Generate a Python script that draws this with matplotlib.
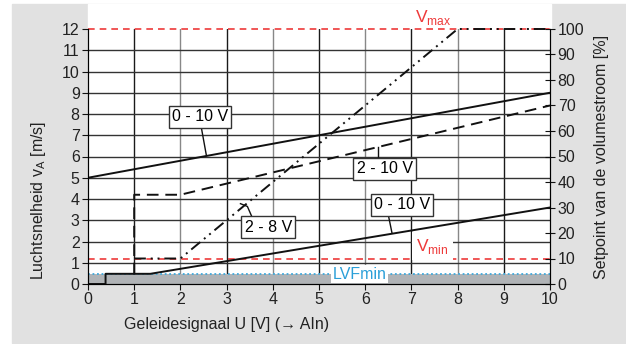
import matplotlib
matplotlib.use('Agg')
import matplotlib.pyplot as plt
from matplotlib.patches import Rectangle
import numpy as np

plt.rcParams['font.family'] = ['Liberation Sans', 'DejaVu Sans']
plt.rcParams['font.size'] = 11.5
plt.rcParams['mathtext.fontset'] = 'custom'
plt.rcParams['mathtext.rm'] = 'Liberation Sans'

# curve data (x = control signal in V, y = air speed in m/s)
x_010_top = [0, 10]
y_010_top = [5, 9]

x_210 = [1, 1, 2, 10]
y_210 = [0.45, 4.2, 4.2, 8.4]

x_28 = [1, 2, 8, 10]
y_28 = [1.2, 1.2, 12, 12]

x_010_low = [0, 0.38, 0.38, 1.35, 10]
y_010_low = [0, 0, 0.48, 0.48, 3.6]

v_max = 12
v_min = 1.2
lvf_min = 0.45

x_ticks = list(range(0, 11))
y_ticks = list(range(0, 13))
pct_ticks = list(range(0, 101, 10))

fig = plt.figure(figsize=(6.26, 3.44), dpi=100)
W, H = 626, 344

# grey panel around the plot
fig.add_artist(Rectangle((12 / W, 1 - 343 / H), (W - 12) / W, (343 - 4) / H,
                         transform=fig.transFigure, color='#e1e1e1', zorder=-5))
fig.add_artist(Rectangle((88 / W, 1 - 29 / H), (551 - 88) / W, 25 / H,
                         transform=fig.transFigure, color='white', zorder=-4))

ax = fig.add_axes([88 / W, 1 - 284 / H, (550 - 88) / W, (284 - 29) / H])
ax.set_xlim(0, 10)
ax.set_ylim(0, 12)

# grid
for xv in x_ticks[1:-1]:
    c = '#1a1a1a' if xv % 2 == 1 else '#888888'
    ax.axvline(xv, color=c, lw=1.0, zorder=1)
for yv in y_ticks[1:-1]:
    ax.axhline(yv, color='#333333', lw=1.0, zorder=1)

# LVFmin band
ax.fill_between([0, 10], 0, lvf_min, color='#b0b3b6', zorder=1.5, lw=0)
ax.axhline(lvf_min, color='#3fa9dc', lw=1.3, ls=(0, (1, 1.5)), zorder=2)

# limits
ax.axhline(v_max, color='#ee3a3a', lw=1.2, ls=(0, (4, 3)), zorder=2, clip_on=False)
ax.axhline(v_min, color='#ee3a3a', lw=1.2, ls=(0, (4, 3)), zorder=2)

# curves
ax.plot(x_010_top, y_010_top, color='#111111', lw=1.4, zorder=4)
ax.plot(x_210, y_210, color='#111111', lw=1.4, ls=(0, (6, 3.5)), zorder=4)
ax.plot(x_28, y_28, color='#111111', lw=1.4, ls=(0, (6, 2.5, 1, 2.5, 1, 2.5)),
        zorder=4, clip_on=False)
ax.plot(x_010_low, y_010_low, color='#111111', lw=1.4, zorder=4)

# labels with leader lines
box = dict(boxstyle='square,pad=0.2', fc='white', ec='#333333', lw=1.0)
ax.plot([2.45, 2.56], [7.4, 6.08], color='#111111', lw=1.0, zorder=4)
ax.text(2.42, 7.86, '0 - 10 V', ha='center', va='center', bbox=box, zorder=6)

ax.plot([6.28, 6.28], [5.85, 6.45], color='#111111', lw=1.0, zorder=4)
ax.plot([6.1, 6.28], [5.85, 5.85], color='#111111', lw=1.0, zorder=4)
ax.text(6.42, 5.42, '2 - 10 V', ha='center', va='center', bbox=box, zorder=6)

ax.plot([3.55, 3.45, 3.3], [3.15, 3.65, 3.78], color='#111111', lw=1.0, zorder=4)
ax.text(3.9, 2.68, '2 - 8 V', ha='center', va='center', bbox=box, zorder=6)

ax.plot([6.5, 6.58], [3.25, 2.4], color='#111111', lw=1.0, zorder=4)
ax.text(6.8, 3.72, '0 - 10 V', ha='center', va='center', bbox=box, zorder=6)

ax.text(5.87, 0.47, 'LVFmin', color='#2a9fd8', ha='center', va='center',
        bbox=dict(boxstyle='square,pad=0.1', fc='white', ec='none'), zorder=6)
ax.text(7.45, 1.78, r'V$_\mathregular{min}$', color='#ee3a3a', ha='center', va='center',
        fontsize=12.5, bbox=dict(boxstyle='square,pad=0.25', fc='white', ec='none'), zorder=6)
ax.text(7.48, 12.55, r'V$_\mathregular{max}$', color='#ee3a3a', ha='center', va='center',
        fontsize=12.5, clip_on=False)

# axes styling
ax.spines['top'].set_visible(False)
for s in ['left', 'bottom', 'right']:
    ax.spines[s].set_color('#111111')
ax.set_xticks(x_ticks)
ax.set_yticks(y_ticks)
ax.tick_params(direction='out', length=4, color='#111111', labelcolor='#222222', pad=2)
ax.set_xlabel('Geleidesignaal U [V] (→ AIn)', color='#222222')
ax.xaxis.set_label_coords((227 - 88) / (550 - 88), -0.13)
ax.set_ylabel(r'Luchtsnelheid v$_\mathregular{A}$ [m/s]', color='#222222')
ax.yaxis.set_label_coords(-(88 - 48) / (550 - 88), (284 - 200) / (284 - 29))

ax2 = ax.twinx()
ax2.set_ylim(0, 100)
ax2.set_yticks(pct_ticks)
ax2.spines['top'].set_visible(False)
ax2.tick_params(direction='inout', length=7, color='#111111', labelcolor='#222222', pad=2)
ax2.set_ylabel('Setpoint van de volumestroom [%]', color='#222222')
ax2.yaxis.set_label_coords(1 + (594 - 550) / (550 - 88), 0.5)

fig.savefig('out.png', dpi=100)
